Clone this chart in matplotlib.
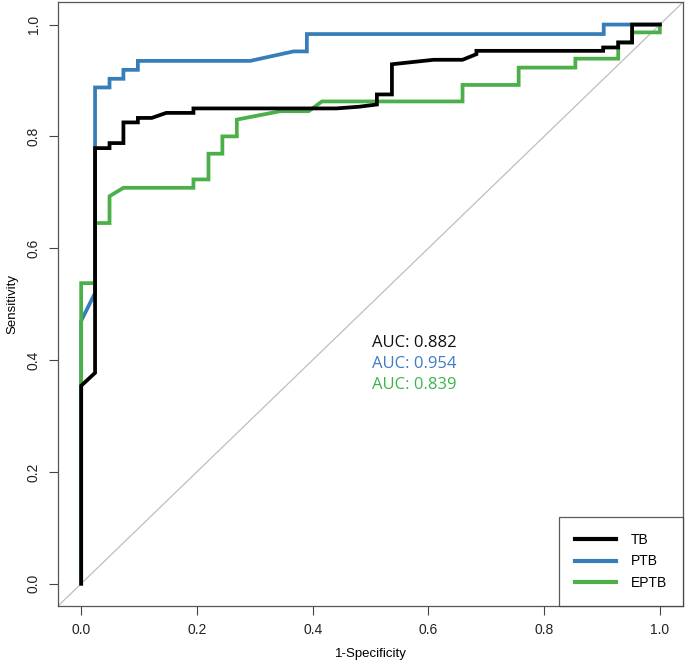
"""ROC curves for TB / PTB / EPTB, R pROC style."""
import matplotlib
matplotlib.use("Agg")
import matplotlib.pyplot as plt

# curve vertices (1-specificity, sensitivity)
TB_FPR = [0, 0, 0.024, 0.024, 0.049, 0.049, 0.073, 0.073, 0.098, 0.098, 0.122, 0.147,
          0.194, 0.194, 0.441, 0.480, 0.511, 0.511, 0.537, 0.537, 0.609, 0.659, 0.683,
          0.683, 0.902, 0.902, 0.928, 0.928, 0.952, 0.952, 1.0]
TB_TPR = [0, 0.354, 0.377, 0.779, 0.779, 0.788, 0.788, 0.825, 0.825, 0.833, 0.833, 0.842,
          0.842, 0.850, 0.850, 0.853, 0.857, 0.875, 0.875, 0.929, 0.937, 0.937, 0.947,
          0.953, 0.953, 0.959, 0.959, 0.968, 0.968, 1.0, 1.0]

PTB_FPR = [0, 0, 0.024, 0.024, 0.049, 0.049, 0.073, 0.073, 0.098, 0.098, 0.292, 0.367,
           0.390, 0.390, 0.903, 0.903, 1.0]
PTB_TPR = [0, 0.470, 0.520, 0.8875, 0.8875, 0.903, 0.903, 0.919, 0.919, 0.935, 0.935, 0.952,
           0.952, 0.983, 0.983, 1.0, 1.0]

EPTB_FPR = [0, 0, 0.024, 0.024, 0.049, 0.049, 0.073, 0.194, 0.194, 0.220, 0.220, 0.244,
            0.244, 0.269, 0.269, 0.344, 0.393, 0.416, 0.659, 0.659, 0.756, 0.756, 0.854,
            0.854, 0.928, 0.928, 0.952, 0.952, 1.0, 1.0]
EPTB_TPR = [0, 0.5375, 0.5375, 0.645, 0.645, 0.693, 0.708, 0.708, 0.723, 0.723, 0.769, 0.769,
            0.800, 0.800, 0.830, 0.845, 0.845, 0.8625, 0.8625, 0.892, 0.892, 0.923, 0.923,
            0.939, 0.939, 0.968, 0.968, 0.986, 0.986, 1.0]

LABELS = ["TB", "PTB", "EPTB"]
AUCS = [0.882, 0.954, 0.839]
COLORS = ["#000000", "#377EB8", "#4DAF4A"]
AUC_COLORS = ["#111111", "#3E7CC4", "#3DB54A"]

TICKS = [0.0, 0.2, 0.4, 0.6, 0.8, 1.0]

plt.rcParams["font.family"] = ["Liberation Sans", "DejaVu Sans"]

fig = plt.figure(figsize=(6.85, 6.65), dpi=100)
ax = fig.add_axes([0.0847, 0.0887, 0.9124, 0.908])

ax.axline((0, 0), (1, 1), color="#BEBEBE", linewidth=0.9, zorder=1)

lines = {}
for fpr, tpr, label, color in [(PTB_FPR, PTB_TPR, "PTB", COLORS[1]),
                               (EPTB_FPR, EPTB_TPR, "EPTB", COLORS[2]),
                               (TB_FPR, TB_TPR, "TB", COLORS[0])]:
    (ln,) = ax.plot(fpr, tpr, color=color, linewidth=2.7, label=label,
                    solid_joinstyle="miter", zorder=3)
    lines[label] = ln

ax.set_xlim(-0.04, 1.04)
ax.set_ylim(-0.04, 1.04)
ax.set_xticks(TICKS)
ax.set_yticks(TICKS)
ax.set_xticklabels([f"{t:.1f}" for t in TICKS])
ax.set_yticklabels([f"{t:.1f}" for t in TICKS], rotation=90, va="center")
ax.tick_params(axis="both", direction="out", length=6.5, width=0.8, colors="#444444",
               labelcolor="#222222", labelsize=10, pad=6)
for sp in ax.spines.values():
    sp.set_color("#555555")
    sp.set_linewidth(0.9)

ax.set_xlabel("1-Specificity", fontsize=9.5, labelpad=8)
ax.set_ylabel("Sensitivity", fontsize=9.5, labelpad=6)

for i, (auc, col) in enumerate(zip(AUCS, AUC_COLORS)):
    ax.text(0.503, 0.430 - i * 0.0375, f"AUC: {auc:.3f}", color=col, fontsize=12,
            family=["Open Sans", "DejaVu Sans"], va="center", ha="left")

leg = ax.legend([lines[k] for k in LABELS], LABELS, loc="lower right",
                bbox_to_anchor=(1, 0), borderaxespad=0, fancybox=False,
                edgecolor="#333333", fontsize=10, handlelength=2.9,
                handletextpad=1.1, borderpad=1.15, labelspacing=0.55)
leg.get_frame().set_linewidth(0.9)
for h in leg.legend_handles:
    h.set_linewidth(3)

fig.savefig("out.png", dpi=100)
